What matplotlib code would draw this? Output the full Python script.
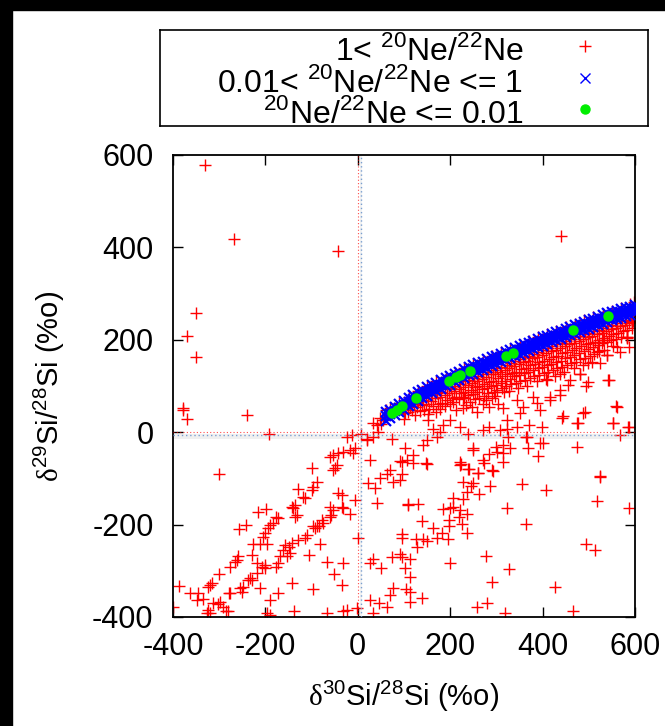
import numpy as np
import matplotlib
matplotlib.use("Agg")
import matplotlib.pyplot as plt
from matplotlib.patches import Rectangle

plt.rcParams['font.family'] = ['Liberation Sans', 'DejaVu Sans']
plt.rcParams['mathtext.fontset'] = 'custom'
plt.rcParams['mathtext.rm'] = 'Liberation Serif'
plt.rcParams['mathtext.sf'] = 'Liberation Sans'
plt.rcParams['axes.unicode_minus'] = False

# --- data (delta30Si, delta29Si in permil) ---
# 1 < 20Ne/22Ne : scattered outliers
red_outliers = [(-331, 578), (-267, 418), (-42, 392), (440, 425), (-350, 258), (-370, 209),
                (-350, 162), (-378, 52), (-378, 48), (-369, 29), (-239, 37), (-192, -3),
                (-300, -91), (593, 239), (582, 207)]

# lower-left diagonal streaks
red_streaks = [(-24, -11), (-13, -6), (8, -3), (19, -15), (-17, -39), (-10, -46), (-6, -35),
               (-31, -42), (-42, -44), (-60, -53), (-53, -49), (-46, -71), (-49, -78),
               (-54, -82), (-100, -78), (-89, -107), (-96, -118), (-100, -125), (-118, -140),
               (-114, -143), (-129, -122), (-136, -158), (-140, -165), (-143, -161),
               (-132, -179), (-136, -183), (-176, -183), (-172, -186), (-199, -167),
               (-215, -172), (-183, -197), (-190, -201), (-194, -208), (-201, -219),
               (-206, -226), (-226, -242), (-212, -242), (-197, -242), (-242, -201),
               (-257, -210), (-230, -266), (-259, -269), (-262, -277), (-266, -280),
               (-277, -291), (-300, -307), (-316, -326), (-320, -331), (-324, -334),
               (-345, -349), (-363, -349), (-349, -363), (-334, -360), (-388, -333),
               (-399, -378), (-324, -385), (-320, -392), (-327, -392), (-313, -370),
               (-302, -372), (-298, -367), (-291, -378), (-280, -388), (-278, -349),
               (-285, -386),
               (-42, -132), (-35, -136), (-60, -161), (-53, -168), (-35, -161), (-31, -165),
               (-57, -179), (-60, -183), (-78, -190), (-75, -197), (-85, -204), (-89, -204),
               (-93, -208), (-96, -203), (-111, -222), (-114, -230), (-129, -233),
               (-82, -242), (-105, -266), (-143, -240), (-150, -248), (-158, -244),
               (-161, -255), (-147, -262), (-154, -269), (-168, -269), (-172, -284),
               (-176, -291), (-201, -287), (-201, -295), (-208, -291), (-219, -284),
               (-219, -305), (-233, -316), (-237, -320), (-230, -320), (-249, -334),
               (-255, -338), (-251, -345), (-212, -338), (-277, -349), (-190, -363),
               (-172, -349), (-143, -326), (-96, -340), (-67, -282), (-31, -284),
               (-52, -308), (-35, -331), (-6, -147), (-17, -177), (1, -230), (26, -60),
               (23, -111), (26, -284), (26, -363), (-2, -381), (-24, -385), (-31, -386),
               (-67, -392), (-138, -386), (-190, -396), (-197, -392)]

# near origin and lower right
red_lowright = [(19, -17), (73, -15), (33, -10), (44, 1), (41, 15), (33, 20), (51, 18),
                (55, 26), (48, 31), (91, -103), (91, -62), (106, -60), (70, -82), (63, -90),
                (77, -107), (48, -100), (37, -121), (41, -154), (109, -158), (95, -220),
                (91, -263), (77, -338), (70, -352), (63, -378), (46, -370), (33, -392),
                (32, -274), (73, -270), (50, -295),
                (95, -64), (120, -66), (148, -67), (223, -69), (241, -80), (261, -88),
                (273, -66), (292, -83), (315, -64), (95, -91), (227, -107), (249, -111),
                (246, -117), (236, -129), (263, -134), (286, -117), (356, -112), (407, -125),
                (524, -98), (517, -148), (586, -165), (109, -156), (131, -156), (205, -143),
                (228, -145), (184, -167), (200, -165), (207, -161), (221, -169), (236, -176),
                (322, -165), (138, -192), (198, -189), (220, -184), (225, -199), (198, -203),
                (163, -208), (182, -218), (172, -228), (196, -232), (237, -219), (95, -228),
                (126, -231), (142, -231), (150, -236), (129, -248), (364, -199), (95, -271),
                (114, -275), (102, -295), (114, -313), (104, -340), (113, -345), (113, -367),
                (140, -358), (200, -284), (278, -269), (328, -297), (290, -324), (259, -379),
                (279, -369), (319, -392), (427, -336), (465, -386), (494, -242), (513, -256)]

# scatter just below the main band
red_mid = [(153, 26), (163, 8), (185, 16), (200, 26), (178, 1), (171, -10), (149, -17),
           (142, -28), (102, -35), (120, -49), (149, -68), (221, 12), (239, -4), (283, 12),
           (308, 5), (322, 8), (326, -10), (315, -28), (301, -42), (283, -47), (250, -35),
           (272, -60), (221, -71), (239, -80), (261, -89), (290, -82), (329, -35),
           (369, -35), (366, -10), (344, 12), (371, 16), (398, 12), (400, -23), (391, -52),
           (474, -31), (441, 30), (477, 19), (492, 44), (553, 19), (586, 12), (567, -6),
           (524, -95), (559, 57), (544, 113), (499, 109), (481, 126), (456, 102), (438, 81),
           (416, 70), (394, 48), (351, 41), (315, 52), (257, 44), (283, 55), (228, 77),
           (228, 52), (524, 149), (539, 167), (567, 174), (582, 207), (531, 200), (380, 77),
           (344, 70), (409, 113), (438, 127), (593, 239), (582, 203), (560, 185), (586, 185),
           (539, 167), (517, 174), (542, 113), (560, 55), (499, 149), (481, 127), (459, 113),
           (495, 99), (488, 41), (445, 34), (474, 19), (585, 12), (553, 19), (438, 91),
           (416, 77), (387, 63), (358, 55), (322, 26), (272, 5), (365, -10), (394, -24),
           (300, -31), (250, -38), (221, -64), (315, -46)]

# dense cloud under the band
red_cloud = [(98, 50), (103, 41), (101, 29), (112, 56), (108, 44), (121, 61), (118, 49),
             (124, 37), (131, 66), (128, 54), (134, 45), (141, 70), (139, 59), (143, 47),
             (152, 75), (148, 62), (155, 51), (151, 39), (161, 80), (158, 67), (163, 56),
             (171, 85), (168, 73), (174, 61), (169, 44), (181, 88), (178, 77), (183, 64),
             (179, 51), (192, 93), (188, 81), (194, 69), (189, 57), (201, 96), (198, 84),
             (204, 73), (199, 61), (211, 101), (208, 89), (213, 77), (207, 65), (212, 48),
             (221, 105), (218, 94), (224, 84), (219, 71), (232, 110), (228, 97), (233, 88),
             (229, 74), (234, 58), (241, 114), (238, 103), (244, 91), (239, 80), (242, 66),
             (252, 118), (248, 107), (254, 97), (249, 83), (253, 71), (248, 55), (261, 122),
             (258, 111), (263, 101), (259, 87), (262, 74), (272, 126), (268, 115),
             (273, 104), (269, 93), (274, 79), (271, 62), (281, 131), (278, 119), (283, 108),
             (279, 96), (282, 85), (277, 70), (292, 134), (288, 125), (293, 111), (289, 101),
             (294, 87), (291, 74), (301, 138), (298, 127), (303, 117), (299, 103), (302, 92),
             (297, 79), (304, 60), (311, 142), (308, 131), (313, 121), (309, 107), (312, 96),
             (322, 146), (318, 135), (323, 125), (319, 111), (321, 99), (317, 86), (331, 150),
             (328, 139), (333, 129), (329, 115), (332, 104), (327, 90), (341, 154), (338, 144),
             (343, 131), (339, 121), (342, 106), (352, 158), (348, 147), (353, 137),
             (349, 123), (351, 110), (347, 95), (361, 162), (358, 151), (363, 140),
             (359, 128), (362, 114), (371, 166), (368, 155), (373, 145), (369, 130),
             (372, 118), (367, 100), (382, 170), (378, 160), (383, 147), (379, 134),
             (381, 121), (391, 174), (388, 163), (393, 153), (389, 138), (392, 124),
             (387, 110), (401, 178), (398, 167), (403, 155), (399, 142), (402, 128),
             (411, 182), (408, 171), (413, 158), (409, 146), (412, 130), (407, 115),
             (421, 186), (418, 175), (423, 163), (419, 148), (422, 134), (431, 190),
             (428, 179), (433, 166), (429, 152), (432, 139), (427, 121), (441, 193),
             (438, 182), (443, 171), (439, 155), (442, 141), (451, 197), (448, 186),
             (453, 174), (449, 161), (452, 145), (447, 130), (461, 201), (458, 190),
             (463, 178), (459, 163), (462, 150), (471, 205), (468, 193), (473, 182),
             (469, 168), (472, 153), (467, 138), (481, 208), (478, 197), (483, 186),
             (479, 172), (482, 158), (491, 212), (488, 201), (493, 190), (489, 176),
             (492, 161), (487, 145), (501, 215), (498, 205), (503, 193), (499, 180),
             (502, 166), (511, 219), (508, 209), (513, 196), (509, 184), (512, 170),
             (507, 151), (521, 222), (518, 212), (523, 200), (519, 188), (522, 175),
             (531, 226), (528, 215), (533, 204), (529, 192), (532, 178), (541, 230),
             (538, 219), (543, 208), (539, 195), (551, 233), (548, 223), (553, 212),
             (549, 200), (552, 186), (561, 236), (558, 225), (563, 215), (559, 202),
             (571, 240), (568, 230), (573, 218), (569, 206), (581, 243), (578, 233),
             (583, 222), (591, 247), (588, 236), (593, 226), (598, 251), (596, 240)]

# red points fringing the upper edge of the band
red_fringe = [(62, 48), (70, 52), (90, 64), (110, 77), (130, 89), (150, 100), (170, 110),
              (190, 120), (210, 129), (230, 139), (250, 148), (270, 156), (290, 165),
              (310, 173), (330, 181), (350, 189), (370, 197), (390, 205), (410, 212),
              (430, 220), (450, 227), (470, 234), (490, 242), (510, 249), (530, 256),
              (550, 263), (570, 269), (590, 277), (598, 281)]

# 0.01 < 20Ne/22Ne <= 1 : narrow band
blue_x = [60, 70, 80, 90, 100, 110, 120, 130, 140, 150, 160, 170, 180, 190, 200, 210, 220,
          230, 240, 250, 260, 270, 280, 290, 300, 310, 320, 330, 340, 350, 360, 370, 380,
          390, 400, 410, 420, 430, 440, 450, 460, 470, 480, 490, 500, 510, 520, 530, 540,
          550, 560, 570, 580, 590, 600]
blue_y_mid = [34, 40, 46, 52, 58, 65, 71, 77, 83, 88, 93, 98, 103, 108, 112, 117, 122, 127,
              132, 136, 140, 144, 149, 153, 157, 161, 165, 169, 173, 177, 181, 185, 189, 193,
              196, 200, 204, 208, 211, 215, 219, 222, 226, 230, 233, 237, 240, 244, 248, 251,
              254, 257, 260, 263, 266]
blue_y_top = [43, 49, 55, 61, 67, 74, 80, 86, 92, 97, 102, 107, 112, 117, 121, 126, 131, 136,
              141, 145, 149, 153, 158, 162, 166, 170, 174, 178, 182, 186, 190, 194, 198, 202,
              205, 209, 213, 217, 220, 224, 228, 231, 235, 239, 242, 246, 249, 253, 257, 260,
              263, 266, 269, 272, 275]
blue_y_low = [25, 31, 37, 43, 49, 56, 62, 68, 74, 79, 84, 89, 94, 99, 103, 108, 113, 118, 123,
              127, 131, 135, 140, 144, 148, 152, 156, 160, 164, 168, 172, 176, 180, 184, 187,
              191, 195, 199, 202, 206, 210, 213, 217, 221, 224, 228, 231, 235, 239, 242, 245,
              248, 251, 254, 257]

# 20Ne/22Ne <= 0.01
green_x = [73, 84, 95, 125, 197, 212, 221, 243, 321, 337, 466, 542]
green_y = [42, 49, 57, 75, 111, 119, 123, 133, 165, 172, 221, 251]

ticks = [-400, -200, 0, 200, 400, 600]

red = np.array(red_outliers + red_streaks + red_lowright + red_mid + red_cloud + red_fringe)

fig = plt.figure(figsize=(6.65, 7.26), dpi=100)
# black frame strips of the screenshot
fig.patches.append(Rectangle((0, 0), 12 / 665, 1, transform=fig.transFigure, color='black', zorder=0))
fig.patches.append(Rectangle((0, 1 - 10 / 726), 1, 10 / 726, transform=fig.transFigure, color='black', zorder=0))

ax = fig.add_axes([173 / 665, 1 - 617 / 726, 462 / 665, 462 / 726])

ax.axhspan(-14, -3, color='0.94', lw=0, zorder=0)
ax.axvspan(5, 10, color='0.95', lw=0, zorder=0)

ax.plot(red[:, 0], red[:, 1], '+', color='red', ms=8, mew=1.0, ls='none', zorder=2)
for yy in (blue_y_top, blue_y_mid, blue_y_low):
    ax.plot(blue_x, yy, 'x', color='blue', ms=7, mew=1.6, ls='none', zorder=3)
ax.plot(green_x, green_y, 'o', color='#00ee00', ms=6.5, mec='#00ee00', ls='none', zorder=4)

ax.axhline(0, color='red', ls=(0, (1, 2)), lw=0.8, alpha=0.7, zorder=5)
ax.axhline(-5, color='#7a9fd0', ls=(0, (1, 2)), lw=1.0, zorder=5)
ax.axvline(1, color='red', ls=(0, (1, 2)), lw=0.8, alpha=0.7, zorder=5)
ax.axvline(7, color='#7a9fd0', ls=(0, (1, 2)), lw=1.0, zorder=5)

ax.set_xlim(-400, 600)
ax.set_ylim(-400, 600)
ax.set_xticks(ticks)
ax.set_yticks(ticks)
ax.tick_params(direction='in', length=7, width=1, labelsize=22, top=True, right=True)
ax.tick_params(axis='y', pad=14)
ax.tick_params(axis='x', pad=11)
for s in ax.spines.values():
    s.set_linewidth(1.3)

ax.set_xlabel(r'$\mathrm{\delta}^{\mathsf{30}}$Si/$^{\mathsf{28}}$Si (%o)', fontsize=21, labelpad=12)
ax.set_ylabel(r'$\mathrm{\delta}^{\mathsf{29}}$Si/$^{\mathsf{28}}$Si (%o)', fontsize=21, labelpad=18)

# legend box drawn as its own axes
lg = fig.add_axes([160 / 665, 1 - 126 / 726, 488 / 665, 96 / 726])
lg.set_xlim(0, 1)
lg.set_ylim(0, 1)
lg.set_xticks([])
lg.set_yticks([])
for s in lg.spines.values():
    s.set_linewidth(1.2)
labels = [r'1< $^{\mathsf{20}}$Ne/$^{\mathsf{22}}$Ne',
          r'0.01< $^{\mathsf{20}}$Ne/$^{\mathsf{22}}$Ne <= 1',
          r'$^{\mathsf{20}}$Ne/$^{\mathsf{22}}$Ne <= 0.01']
text_rows = [0.69, 0.355, 0.035]
marker_rows = [0.83, 0.50, 0.18]
styles = [dict(marker='+', color='red', ms=8, mew=1.0),
          dict(marker='x', color='blue', ms=7, mew=1.0),
          dict(marker='o', color='#00ee00', ms=6.5)]
for lab, tr, mr, st in zip(labels, text_rows, marker_rows, styles):
    lg.text(0.745, tr, lab, ha='right', va='baseline', fontsize=23)
    lg.plot([0.871], [mr], ls='none', **st)

fig.savefig('out.png', dpi=100)
